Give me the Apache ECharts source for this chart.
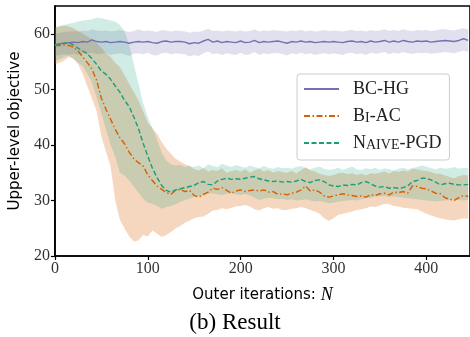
<!DOCTYPE html>
<html>
<head>
<meta charset="utf-8">
<script src="https://cdn.jsdelivr.net/npm/echarts@6/dist/echarts.min.js"></script>
<style>html,body{margin:0;padding:0;background:#fff}#c{width:470px;height:337px}</style>
</head>
<body>
<div id="c"></div>
<script>
// x positions: outer iterations sampled every 5
const iterations = [];
for (let n = 0; n <= 445; n += 5) iterations.push(n);

const xTicks = [0, 100, 200, 300, 400];
const yTicks = [20, 30, 40, 50, 60];

// BC-HG
const bchgMean = [
58.0,58.2,58.3,58.4,58.5,58.4,58.6,58.5,58.9,58.6,
58.5,58.6,58.4,58.5,58.6,58.5,58.3,58.5,58.6,58.5,
58.6,58.4,58.3,58.6,58.7,58.5,58.6,58.6,58.5,58.2,
58.4,58.3,58.7,59.0,58.5,58.7,58.4,58.6,58.5,58.4,
58.7,58.4,58.5,58.8,58.4,58.6,58.5,58.6,58.7,58.5,
58.3,58.6,58.5,58.7,58.5,58.6,58.4,58.5,58.6,58.5,
58.6,58.5,58.4,58.6,58.7,58.5,58.6,58.4,58.7,58.5,
58.6,58.8,58.5,58.7,58.5,58.8,58.6,58.5,58.7,58.6,
58.7,58.5,58.6,58.7,58.8,58.7,58.6,58.8,59.1,58.8];
const bchgUpper = [
60.0,60.2,60.3,60.4,60.5,60.4,60.6,60.5,60.8,60.6,
60.5,60.6,60.4,60.5,60.7,60.5,60.3,60.5,60.8,60.5,
60.6,60.5,60.3,60.7,60.6,60.4,60.6,60.5,60.4,60.2,
60.4,60.3,60.6,60.9,60.5,60.6,60.4,60.6,60.5,60.4,
60.6,60.4,60.5,60.8,60.4,60.6,60.5,60.7,60.6,60.5,
60.4,60.6,60.5,60.7,60.4,60.6,60.4,60.5,60.7,60.5,
60.6,60.5,60.4,60.6,60.7,60.5,60.6,60.4,60.7,60.5,
60.6,60.8,60.5,60.7,60.5,60.8,60.6,60.5,60.7,60.6,
60.7,60.5,60.6,60.8,60.8,60.7,60.6,60.8,61.0,60.8];
const bchgLower = [
56.0,56.2,56.3,56.2,56.4,56.2,56.5,56.3,56.6,56.3,
56.4,56.5,56.2,56.4,56.5,56.3,56.0,56.4,56.5,56.3,
56.6,56.2,56.1,56.5,56.6,56.3,56.5,56.4,56.3,55.9,
56.2,56.0,56.5,56.8,56.3,56.5,56.2,56.5,56.3,56.2,
56.6,56.2,56.3,56.7,56.2,56.5,56.3,56.5,56.6,56.3,
56.1,56.5,56.3,56.6,56.3,56.5,56.2,56.4,56.5,56.3,
56.5,56.3,56.2,56.5,56.6,56.3,56.5,56.2,56.6,56.4,
56.5,56.7,56.3,56.6,56.4,56.7,56.5,56.4,56.6,56.5,
56.6,56.4,56.5,56.6,56.7,56.6,56.5,56.7,57.0,56.7];

// Bi-AC
const biacMean = [
57.9,57.9,58.0,57.9,57.6,56.9,55.8,54.8,53.6,51.6,
48.4,46.4,44.6,42.8,41.3,40.2,38.7,37.5,36.8,36.2,
34.6,33.6,32.6,32.0,31.4,31.1,31.8,32.0,31.6,31.8,
30.9,30.6,31.1,31.5,32.2,32.0,32.3,31.8,31.3,31.7,
31.9,31.6,31.8,31.9,31.7,31.9,31.5,31.6,31.1,31.2,
31.0,31.3,31.5,31.9,32.6,31.7,31.9,31.5,30.8,30.6,
30.8,31.0,31.2,31.0,30.9,30.7,30.8,30.6,31.0,30.9,
31.2,31.3,31.0,31.5,31.4,31.6,31.3,32.6,32.5,32.2,
32.1,31.7,31.3,31.2,30.5,30.2,30.0,30.5,30.9,30.7];
const biacUpper = [
61.0,61.3,61.5,61.3,61.0,60.5,60.0,59.5,59.0,58.3,
57.5,56.5,55.8,54.8,54.0,52.5,51.0,49.5,48.0,46.0,
44.0,43.0,42.0,40.5,39.3,38.4,37.5,37.0,36.5,36.2,
35.6,35.4,35.8,35.2,35.5,35.3,35.8,35.0,35.3,35.5,
35.2,35.6,35.0,35.4,35.7,35.2,35.5,35.0,35.3,35.1,
35.0,35.3,34.9,35.4,36.0,35.4,35.2,34.8,34.6,34.4,
34.6,34.9,35.0,34.7,34.9,34.6,34.8,34.5,34.9,34.8,
35.0,35.2,34.8,35.3,35.1,35.4,35.2,35.7,35.6,35.4,
35.3,35.1,34.8,34.8,34.5,34.2,34.0,34.4,34.6,34.5];
const biacLower = [
54.5,54.8,55.2,55.8,55.5,54.5,52.8,50.5,48.3,46.0,
41.5,38.8,36.1,30.0,26.5,25.0,23.5,22.6,22.8,23.8,
23.5,24.6,24.0,23.4,23.8,24.3,25.0,25.4,26.0,26.4,
26.8,27.0,27.1,27.6,28.2,28.3,28.6,28.4,28.7,28.9,
29.0,29.2,28.9,28.4,28.2,28.6,28.8,28.5,28.6,28.3,
28.3,28.5,28.6,28.8,28.6,28.3,28.0,27.6,26.8,26.3,
26.8,27.4,27.6,27.8,28.0,28.3,28.4,28.6,28.9,28.8,
29.1,29.4,29.3,29.0,28.9,28.7,28.6,28.5,28.4,28.0,
27.6,27.3,27.0,26.8,26.6,26.5,26.4,26.6,26.8,26.7];

// Naive-PGD
const naiveMean = [
58.0,58.1,58.3,58.4,58.0,57.4,56.9,56.4,55.5,54.5,
53.3,52.7,51.8,50.6,49.5,48.0,46.9,45.0,42.9,40.3,
38.0,35.8,34.1,32.7,31.8,31.5,31.9,32.1,32.3,32.5,
32.7,33.2,33.4,32.9,32.8,33.5,33.8,34.0,33.8,33.9,
33.8,34.0,34.2,34.3,33.9,33.7,33.5,33.4,33.5,33.3,
33.4,33.3,33.5,33.8,33.4,33.2,33.6,33.7,33.4,32.8,
32.6,32.5,32.8,32.7,32.9,32.8,33.2,33.4,33.0,32.6,
32.4,32.5,32.2,32.3,32.2,32.3,32.6,33.4,33.6,34.0,
34.0,33.7,33.3,32.8,33.0,33.1,32.9,32.8,32.8,32.9];
const naiveUpper = [
61.2,61.4,61.6,61.8,62.0,62.2,62.4,62.5,62.6,62.9,
62.8,62.6,62.4,62.2,61.6,60.5,58.0,54.5,51.0,47.5,
45.0,43.0,41.0,38.6,37.2,36.5,36.3,36.4,36.0,36.2,
36.0,36.3,35.8,36.5,36.2,36.0,36.6,36.3,36.0,36.4,
36.1,35.9,36.3,36.0,35.8,36.2,35.9,35.7,36.0,35.8,
35.9,35.7,36.0,36.2,35.8,35.6,35.9,36.1,35.7,35.5,
35.6,35.9,35.5,35.8,36.1,35.6,35.5,35.8,35.6,35.9,
35.5,35.8,35.6,35.4,35.7,35.9,35.6,35.8,36.0,36.3,
36.1,35.8,35.6,35.9,35.7,35.8,36.0,35.7,35.9,35.8];
const naiveLower = [
55.0,55.4,55.8,56.1,55.5,54.8,54.2,52.8,51.2,48.5,
45.7,42.8,40.0,37.8,35.0,34.5,33.6,32.5,31.4,30.3,
29.6,29.4,29.0,28.5,28.8,29.0,29.3,29.7,30.1,30.3,
30.6,30.8,30.9,31.2,31.3,31.1,31.0,31.2,31.3,31.1,
31.0,31.2,30.9,30.5,30.1,30.3,30.5,30.4,30.2,30.3,
30.1,30.2,30.0,30.1,30.2,30.0,29.8,29.9,29.7,29.5,
29.6,29.8,29.9,30.0,30.1,30.0,30.2,30.4,30.5,30.7,
30.7,30.8,30.6,30.7,30.6,30.5,30.4,30.3,30.2,30.1,
30.0,29.9,29.8,29.9,30.0,30.1,30.2,30.1,30.0,30.1];

const names = ['BC-HG', 'Bi-AC', 'Naive-PGD'];

const pairs = ys => ys.map((v, i) => [iterations[i], v]);

// shaded band drawn as one polygon through the chart's own coordinate system
function band(key, up, lo, fill, z) {
  return {
    name: key + '_band', type: 'custom', data: [[iterations[0], lo[0]]], silent: true, z: z, clip: true,
    renderItem: (params, api) => {
      const pts = [];
      for (let i = 0; i < up.length; i++) pts.push(api.coord([iterations[i], up[i]]));
      for (let i = lo.length - 1; i >= 0; i--) pts.push(api.coord([iterations[i], lo[i]]));
      return { type: 'polygon', shape: { points: pts }, style: { fill: fill, stroke: null } };
    }
  };
}

const serif = 'Liberation Serif';
const chart = echarts.init(document.getElementById('c'), null, { renderer: 'canvas' });
chart.setOption({
  animation: false,
  backgroundColor: '#fff',
  title: {
    text: '(b) Result', left: 'center', top: 306,
    textStyle: { fontFamily: serif, fontSize: 23, fontWeight: 'normal', color: '#000' }
  },
  grid: { left: 54, top: 6, width: 420, height: 250, show: true, borderColor: '#000', borderWidth: 1.6, backgroundColor: 'transparent' },
  legend: {
    data: names, orient: 'vertical', left: 297, top: 74,
    itemWidth: 35, itemHeight: 14, itemGap: 9,
    padding: [6, 8, 8, 6],
    borderColor: '#cccccc', borderWidth: 1, borderRadius: 3,
    backgroundColor: 'rgba(255,255,255,0.85)',
    itemStyle: { color: 'transparent', borderColor: 'transparent', borderWidth: 0 },
    formatter: n => n === 'Bi-AC' ? 'B{sc|I}-AC' : (n === 'Naive-PGD' ? 'N{sc|AIVE}-PGD' : n),
    textStyle: {
      fontFamily: serif, fontSize: 18, color: '#222', padding: [0, 0, 0, 9],
      rich: { sc: { fontFamily: serif, fontSize: 14, color: '#222', verticalAlign: 'bottom' } }
    }
  },
  xAxis: {
    type: 'value', min: 0, max: 447, interval: 100,
    name: 'Outer iterations: {i|N}', nameLocation: 'middle', nameGap: 30,
    nameTextStyle: { fontFamily: 'DejaVu Sans', fontSize: 15, color: '#000',
      rich: { i: { fontFamily: serif, fontStyle: 'italic', fontSize: 18, color: '#000' } } },
    axisLine: { show: true, lineStyle: { color: '#000', width: 1.6 } },
    axisTick: { show: true, length: 4, lineStyle: { color: '#000', width: 1.2 } },
    axisLabel: { fontFamily: serif, fontSize: 16, color: '#333', margin: 5, showMaxLabel: false,
      formatter: v => xTicks.includes(v) ? String(v) : '' },
    splitLine: { show: false }
  },
  yAxis: {
    type: 'value', min: 20, max: 65, interval: 10,
    name: 'Upper-level objective', nameLocation: 'middle', nameGap: 29, nameRotate: 90,
    nameTextStyle: { fontFamily: 'DejaVu Sans', fontSize: 15, color: '#000' },
    axisLine: { show: true, lineStyle: { color: '#000', width: 1.6 } },
    axisTick: { show: true, length: 4, lineStyle: { color: '#000', width: 1.2 } },
    axisLabel: { fontFamily: serif, fontSize: 16, color: '#333', margin: 5, showMaxLabel: false,
      formatter: v => yTicks.includes(v) ? String(v) : '' },
    splitLine: { show: false }
  },
  series: [
    band('bchg', bchgUpper, bchgLower, 'rgba(117,112,179,0.22)', 1),
    band('biac', biacUpper, biacLower, 'rgba(217,95,2,0.25)', 2),
    band('naive', naiveUpper, naiveLower, 'rgba(27,158,119,0.2)', 3),
    { name: 'BC-HG', type: 'line', data: pairs(bchgMean), symbol: 'none', z: 5,
      lineStyle: { color: '#7570b3', width: 1.4, type: 'solid' }, itemStyle: { color: '#7570b3' } },
    { name: 'Bi-AC', type: 'line', data: pairs(biacMean), symbol: 'none', z: 5,
      lineStyle: { color: '#d95f02', width: 1.4, type: [6, 2.5, 1.5, 2.5] }, itemStyle: { color: '#d95f02' } },
    { name: 'Naive-PGD', type: 'line', data: pairs(naiveMean), symbol: 'none', z: 5,
      lineStyle: { color: '#1b9e77', width: 1.4, type: [5, 2.5] }, itemStyle: { color: '#1b9e77' } }
  ]
});
</script>
</body>
</html>
